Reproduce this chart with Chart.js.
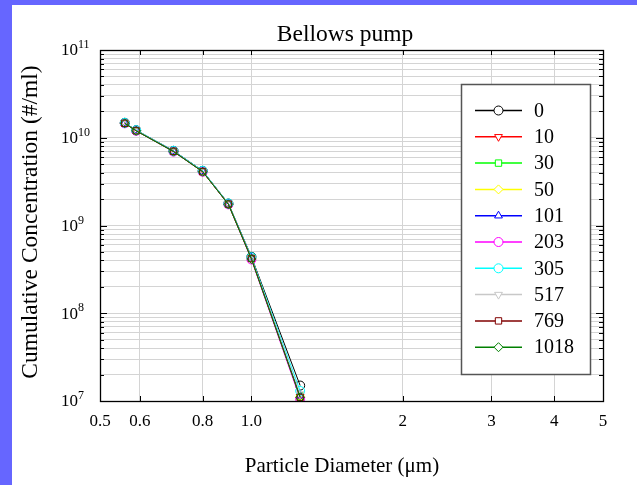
<!DOCTYPE html>
<html>
<head>
<meta charset="utf-8">
<script src="https://cdn.jsdelivr.net/npm/chart.js@4/dist/chart.umd.min.js"></script>
<style>
  html, body { margin: 0; padding: 0; background: #6666ff; }
  #wrap { position: absolute; left: 12px; top: 5px; width: 625px; height: 480px; background: #fff; }
</style>
</head>
<body>
<div id="wrap"><canvas id="pump" width="625" height="480"></canvas></div>
<script>
// particle diameters (um)
var diameters = [0.56, 0.59, 0.70, 0.80, 0.90, 1.0, 1.25];

// cumulative concentration (#/ml) for each run
var run0    = [1.48e10, 1.22e10, 7.1e9, 4.2e9, 1.78e9, 4.4e8, 1.50e7];
var run10   = [1.47e10, 1.21e10, 7.0e9, 4.15e9, 1.76e9, 4.2e8, 1.12e7];
var run30   = [1.47e10, 1.21e10, 7.0e9, 4.15e9, 1.76e9, 4.25e8, 1.14e7];
var run50   = [1.46e10, 1.20e10, 7.0e9, 4.1e9, 1.75e9, 4.2e8, 1.13e7];
var run101  = [1.47e10, 1.21e10, 7.05e9, 4.15e9, 1.76e9, 4.3e8, 1.15e7];
var run203  = [1.46e10, 1.20e10, 6.95e9, 4.1e9, 1.74e9, 4.1e8, 1.05e7];
var run305  = [1.48e10, 1.22e10, 7.1e9, 4.2e9, 1.78e9, 4.35e8, 1.30e7];
var run517  = [1.47e10, 1.21e10, 7.0e9, 4.15e9, 1.76e9, 4.25e8, 1.20e7];
var run769  = [1.46e10, 1.20e10, 7.0e9, 4.1e9, 1.75e9, 4.2e8, 1.10e7];
var run1018 = [1.46e10, 1.20e10, 6.95e9, 4.1e9, 1.74e9, 4.15e8, 1.10e7];

var runLabels = ["0", "10", "30", "50", "101", "203", "305", "517", "769", "1018"];
var runValues = [run0, run10, run30, run50, run101, run203, run305, run517, run769, run1018];
var runColors = ["#000000", "#ff0000", "#00ff00", "#ffff00", "#0000ff", "#ff00ff", "#00ffff", "#c8c8c8", "#800000", "#008000"];
var runMarkers = ["circle", "triangle", "rect", "rectRot", "triangle", "circle", "circle", "triangle", "rect", "rectRot"];
var runRotation = [0, 180, 0, 0, 0, 0, 0, 180, 0, 0];

var xTicks = [0.5, 0.6, 0.8, 1.0, 2, 3, 4, 5];
var xTickLabels = ["0.5", "0.6", "0.8", "1.0", "2", "3", "4", "5"];
var yDecades = [7, 8, 9, 10, 11];

var serif = "'Liberation Serif', 'Times New Roman', serif";

function yMinorTicks() {
  var out = [];
  for (var e = 7; e < 11; e++) {
    for (var m = 1; m < 10; m++) out.push({ value: m * Math.pow(10, e) });
  }
  out.push({ value: 1e11 });
  return out;
}

// later runs are drawn over the earlier ones
var datasets = runLabels.map(function (lab, i) {
  return {
    label: lab,
    data: diameters.map(function (d, j) { return { x: d, y: runValues[i][j] }; }),
    order: runLabels.length - i,
    borderColor: runColors[i],
    backgroundColor: "rgba(0,0,0,0)",
    borderWidth: 1,
    pointStyle: runMarkers[i],
    rotation: runRotation[i],
    pointRadius: 4.5,
    pointBorderWidth: 1,
    pointBorderColor: runColors[i],
    pointBackgroundColor: "rgba(255,255,255,0)",
    tension: 0
  };
});

// frame, inward ticks, tick labels, titles and the boxed legend
var decorations = {
  id: "decorations",
  beforeDatasetsDraw: function (chart) {
    var ctx = chart.ctx, a = chart.chartArea;
    var xs = chart.scales.x, ys = chart.scales.y;
    ctx.save();
    ctx.strokeStyle = "#000";
    ctx.lineWidth = 1;
    ctx.beginPath();
    xTicks.forEach(function (v) {
      var px = Math.round(xs.getPixelForValue(v)) + 0.5;
      ctx.moveTo(px, a.bottom); ctx.lineTo(px, a.bottom - 5);
      ctx.moveTo(px, a.top); ctx.lineTo(px, a.top + 5);
    });
    yMinorTicks().forEach(function (t) {
      var py = Math.round(ys.getPixelForValue(t.value)) + 0.5;
      var major = Math.abs(Math.log10(t.value) % 1) < 1e-9;
      var len = major ? 7 : 4;
      ctx.moveTo(a.left, py); ctx.lineTo(a.left + len, py);
      ctx.moveTo(a.right, py); ctx.lineTo(a.right - len, py);
    });
    ctx.stroke();
    ctx.restore();
  },
  afterDraw: function (chart) {
    var ctx = chart.ctx, a = chart.chartArea;
    var xs = chart.scales.x, ys = chart.scales.y;
    ctx.save();
    ctx.strokeStyle = "#000";
    ctx.lineWidth = 1.3;
    ctx.strokeRect(Math.round(a.left) + 0.5, Math.round(a.top) + 0.5, Math.round(a.right - a.left), Math.round(a.bottom - a.top));

    ctx.fillStyle = "#000";
    // x tick labels
    ctx.font = "17px " + serif;
    ctx.textAlign = "center";
    ctx.textBaseline = "middle";
    xTicks.forEach(function (v, i) {
      ctx.fillText(xTickLabels[i], xs.getPixelForValue(v), a.bottom + 21);
    });
    // y tick labels 10^n
    yDecades.forEach(function (e) {
      var py = ys.getPixelForValue(Math.pow(10, e));
      ctx.font = "12px " + serif;
      ctx.textAlign = "left";
      ctx.textBaseline = "middle";
      ctx.fillText(String(e), 66, py - 5);
      ctx.font = "17px " + serif;
      ctx.textAlign = "right";
      ctx.fillText("10", 66, py + 1);
    });

    // titles
    ctx.textAlign = "center";
    ctx.textBaseline = "middle";
    ctx.font = "23.5px " + serif;
    ctx.fillText("Bellows pump", 333, 30);
    ctx.font = "21px " + serif;
    ctx.fillText("Particle Diameter (\u03bcm)", 330, 461);
    ctx.save();
    ctx.translate(19, 217);
    ctx.rotate(-Math.PI / 2);
    ctx.font = "23.5px " + serif;
    ctx.fillText("Cumulative Concentration (#/ml)", 0, 0);
    ctx.restore();

    // legend box
    var bx = 449, by = 79, bw = 129, bh = 290;
    ctx.fillStyle = "#fff";
    ctx.fillRect(bx, by, bw, bh);
    ctx.strokeStyle = "#555";
    ctx.lineWidth = 1.5;
    ctx.strokeRect(bx + 0.5, by + 0.5, bw, bh);
    runLabels.forEach(function (lab, i) {
      var ry = 105.5 + i * 26.3;
      ctx.strokeStyle = runColors[i];
      ctx.lineWidth = 1.5;
      ctx.beginPath();
      ctx.moveTo(463, ry); ctx.lineTo(510, ry);
      ctx.stroke();
      ctx.fillStyle = "#fff";
      ctx.lineWidth = 1;
      Chart.helpers.drawPoint(ctx, { pointStyle: runMarkers[i], rotation: runRotation[i], radius: 4.5, borderWidth: 1 }, 486.5, ry);
      ctx.fillStyle = "#000";
      ctx.font = "20px " + serif;
      ctx.textAlign = "left";
      ctx.textBaseline = "middle";
      ctx.fillText(lab, 522, ry + 1);
    });
    ctx.restore();
  }
};

new Chart("pump", {
  type: "line",
  data: { datasets: datasets },
  options: {
    responsive: false,
    animation: false,
    layout: { padding: { left: 88, top: 45, right: 34, bottom: 84 } },
    plugins: { legend: { display: false }, title: { display: false }, tooltip: { enabled: false } },
    scales: {
      x: {
        type: "logarithmic",
        min: 0.5, max: 5,
        afterBuildTicks: function (s) { s.ticks = xTicks.map(function (v) { return { value: v }; }); },
        ticks: { display: false },
        grid: { color: "#d4d4d4", lineWidth: 1, drawTicks: false },
        border: { display: false }
      },
      y: {
        type: "logarithmic",
        min: 1e7, max: 1e11,
        afterBuildTicks: function (s) { s.ticks = yMinorTicks(); },
        ticks: { display: false },
        grid: { color: "#d4d4d4", lineWidth: 1, drawTicks: false },
        border: { display: false }
      }
    }
  },
  plugins: [decorations]
});
</script>
</body>
</html>
